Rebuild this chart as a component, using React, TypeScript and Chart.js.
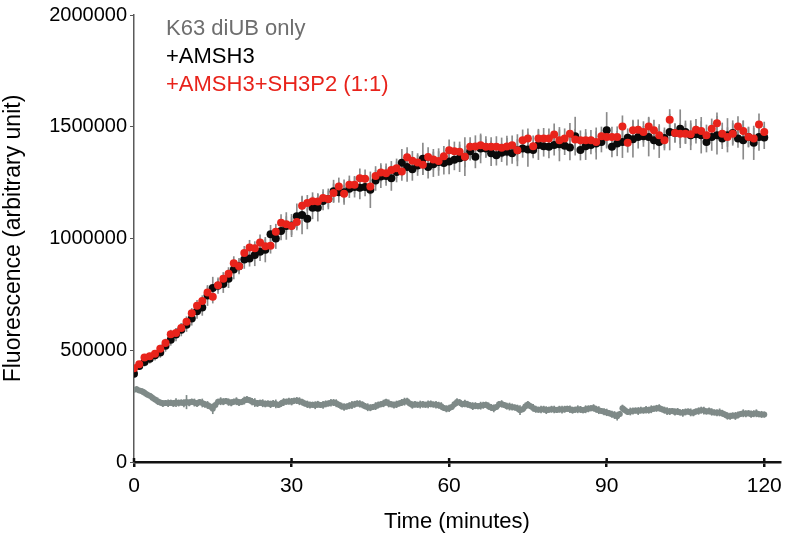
import React, { useEffect, useRef } from "react";
import { Chart, registerables } from "chart.js";

Chart.register(...registerables);

// ---- data (fluorescence values in thousands of arbitrary units) ----
const xTicks = [0, 30, 60, 90, 120];
const yTicks = [0, 500000, 1000000, 1500000, 2000000];
const legendLabels = ["K63 diUB only", "+AMSH3", "+AMSH3+SH3P2 (1:1)"];
const legendColors = ["#6e6e6e", "#000000", "#e8231b"];

// minutes, sampled every 1 min (AMSH3 series) and every 0.5 min (diUB only)
const minutesFull = Array.from({ length: 121 }, (_, i) => i);
const minutesHalf = Array.from({ length: 241 }, (_, i) => i / 2);

const amsh3 = [
  395, 430, 447, 462, 478, 490, 520, 547, 570, 592,
  614, 642, 674, 691, 745, 779, 789, 796, 820, 861,
  876, 906, 911, 926, 941, 950, 1019, 1000, 1034, 1056,
  1058, 1100, 1105, 1088, 1138, 1138, 1168, 1177, 1211, 1207,
  1207, 1223, 1230, 1227, 1230, 1218, 1260, 1277, 1280, 1270,
  1298, 1339, 1320, 1310, 1327, 1357, 1320, 1332, 1342, 1338,
  1344, 1352, 1359, 1366, 1390, 1366, 1403, 1403, 1381, 1373,
  1384, 1388, 1381, 1395, 1403, 1398, 1396, 1418, 1413, 1410,
  1418, 1422, 1415, 1407, 1458, 1396, 1413, 1418, 1425, 1432,
  1484, 1410, 1425, 1432, 1451, 1444, 1454, 1457, 1454, 1440,
  1432, 1450, 1476, 1472, 1491, 1476, 1462, 1466, 1462, 1432,
  1454, 1462, 1447, 1462, 1472, 1447, 1440, 1454, 1428, 1454,
  1452,
];

const amsh3Err = [
  12, 15, 18, 20, 22, 22, 25, 25, 28, 28,
  30, 30, 32, 35, 45, 48, 35, 38, 40, 42,
  35, 40, 35, 48, 40, 55, 40, 45, 40, 60,
  50, 55, 85, 45, 50, 60, 40, 45, 50, 45,
  55, 40, 45, 50, 40, 80, 45, 50, 42, 55,
  45, 60, 65, 50, 45, 70, 50, 55, 60, 50,
  55, 45, 60, 85, 40, 50, 65, 40, 55, 45,
  40, 60, 45, 70, 40, 75, 35, 65, 45, 50,
  45, 75, 40, 55, 85, 45, 60, 40, 70, 45,
  80, 45, 55, 70, 40, 80, 50, 45, 85, 40,
  70, 45, 80, 40, 85, 50, 65, 40, 80, 45,
  60, 85, 45, 75, 55, 40, 85, 45, 75, 60,
  50,
];

const amsh3Sh3p2 = [
  419, 437, 468, 473, 484, 507, 532, 572, 577, 599,
  628, 665, 699, 720, 758, 739, 791, 820, 842, 889,
  876, 935, 960, 956, 982, 965, 968, 1030, 1071, 1064,
  1056, 1074, 1147, 1159, 1167, 1165, 1181, 1177, 1204, 1233,
  1200, 1240, 1240, 1270, 1267, 1233, 1280, 1295, 1292, 1307,
  1314, 1300, 1363, 1348, 1340, 1330, 1365, 1353, 1347, 1368,
  1395, 1390, 1388, 1366, 1410, 1412, 1417, 1410, 1410, 1410,
  1406, 1412, 1417, 1395, 1440, 1447, 1413, 1447, 1447, 1447,
  1465, 1440, 1447, 1469, 1443, 1440, 1440, 1440, 1432, 1457,
  1454, 1454, 1454, 1501, 1428, 1484, 1487, 1477, 1501, 1484,
  1462, 1440, 1531, 1472, 1469, 1469, 1466, 1487, 1481, 1462,
  1491, 1516, 1469, 1454, 1469, 1501, 1481, 1454, 1447, 1510,
  1477,
];

const amsh3Sh3p2Err = [
  10, 12, 14, 14, 16, 16, 18, 18, 20, 20,
  22, 22, 24, 24, 26, 28, 26, 28, 28, 30,
  30, 30, 32, 30, 34, 32, 34, 34, 36, 34,
  38, 36, 38, 34, 38, 36, 38, 36, 40, 38,
  38, 40, 38, 42, 40, 38, 42, 40, 42, 38,
  42, 40, 44, 42, 40, 44, 42, 46, 42, 44,
  46, 42, 44, 46, 42, 48, 44, 46, 42, 46,
  44, 46, 42, 48, 46, 44, 46, 42, 46, 44,
  48, 46, 44, 46, 46, 42, 48, 44, 46, 42,
  46, 44, 46, 48, 42, 46, 44, 46, 42, 46,
  48, 44, 46, 42, 46, 44, 48, 46, 42, 46,
  44, 46, 48, 42, 46, 44, 46, 42, 46, 48,
  44,
];

const diubOnly = [
  323, 326, 320, 316, 310, 302, 296, 288, 280, 272,
  266, 262, 264, 263, 265, 262, 266, 264, 266, 263,
  268, 265, 270, 266, 262, 268, 264, 258, 255, 248,
  238, 255, 270, 272, 270, 273, 268, 265, 270, 272,
  266, 268, 275, 280, 276, 270, 266, 262, 265, 263,
  260, 262, 258, 262, 260, 255, 262, 268, 270, 272,
  270, 274, 275, 272, 268, 262, 258, 255, 256, 254,
  258, 255, 256, 260, 262, 265, 266, 263, 256, 250,
  246, 248, 252, 255, 258, 262, 260, 256, 250, 245,
  243, 246, 250, 255, 258, 262, 268, 262, 258, 255,
  258, 262, 266, 270, 272, 262, 255, 258, 256, 257,
  258, 256, 258, 260, 257, 256, 254, 250, 242, 238,
  240, 246, 258, 268, 266, 258, 262, 258, 254, 250,
  252, 250, 252, 254, 256, 250, 244, 240, 246, 258,
  260, 255, 250, 248, 246, 244, 240, 232, 236, 248,
  257, 250, 242, 236, 234, 235, 236, 232, 234, 236,
  235, 233, 236, 234, 236, 238, 236, 232, 234, 236,
  235, 232, 236, 238, 240, 242, 236, 232, 228, 225,
  222, 218, 214, 210, 205, 215, 240, 232, 224, 226,
  228, 230, 228, 232, 230, 234, 232, 236, 238, 240,
  242, 236, 232, 228, 226, 228, 224, 226, 222, 220,
  224, 226, 222, 220, 226, 228, 232, 230, 226, 228,
  224, 222, 220, 222, 218, 212, 206, 205, 208, 206,
  210, 215, 218, 216, 218, 214, 216, 218, 214, 213,
  212,
];

const diubOnlyErr = [
  10, 12, 10, 12, 14, 12, 10, 14, 12, 15,
  12, 14, 12, 15, 12, 14, 18, 14, 12, 16,
  30, 14, 12, 16, 14, 12, 18, 14, 16, 12,
  22, 14, 12, 16, 14, 12, 15, 14, 12, 16,
  14, 12, 16, 14, 12, 15, 18, 14, 12, 16,
  14, 12, 15, 14, 18, 12, 14, 16, 12, 14,
  15, 12, 14, 16, 14, 12, 15, 14, 12, 16,
  14, 12, 16, 14, 12, 15, 14, 16, 12, 14,
  15, 12, 14, 16, 14, 12, 15, 14, 12, 16,
  14, 12, 16, 14, 12, 15, 14, 16, 12, 14,
  15, 12, 14, 16, 14, 12, 15, 14, 12, 16,
  14, 12, 16, 14, 12, 15, 14, 16, 12, 14,
  15, 12, 14, 16, 14, 12, 15, 14, 12, 16,
  14, 12, 16, 14, 12, 15, 14, 16, 12, 14,
  15, 12, 14, 16, 14, 12, 15, 20, 12, 16,
  14, 12, 16, 14, 12, 15, 14, 16, 12, 14,
  15, 12, 14, 16, 14, 12, 15, 14, 12, 16,
  14, 12, 16, 14, 12, 15, 14, 16, 12, 14,
  15, 12, 14, 16, 18, 12, 15, 14, 12, 16,
  14, 12, 16, 14, 12, 15, 14, 16, 12, 14,
  15, 12, 14, 16, 14, 12, 15, 14, 12, 16,
  14, 12, 16, 14, 12, 15, 14, 16, 12, 14,
  15, 12, 14, 16, 14, 12, 15, 14, 12, 16,
  14, 12, 16, 14, 12, 15, 14, 16, 12, 14,
  12,
];

const FONT = '"Liberation Sans", Arial, Helvetica, sans-serif';

const toPoints = (t: number[], v: number[]) =>
  t.map((x, i) => ({ x, y: v[i] * 1000 }));
const toBars = (t: number[], v: number[], e: number[]) =>
  t.map((x, i) => ({ x, y: [(v[i] - e[i]) * 1000, (v[i] + e[i]) * 1000] }));

const legendPlugin = {
  id: "legendText",
  afterDraw(chart: any) {
    const ctx = chart.ctx;
    ctx.save();
    ctx.font = `22px ${FONT}`;
    ctx.textAlign = "left";
    ctx.textBaseline = "alphabetic";
    legendLabels.forEach((label, i) => {
      ctx.fillStyle = legendColors[i];
      ctx.fillText(label, 166, 35 + i * 28);
    });
    ctx.restore();
  },
};

const xTickUpPlugin = {
  id: "xTickUp",
  afterDraw(chart: any) {
    const ctx = chart.ctx;
    const xs = chart.scales.x;
    const bottom = chart.chartArea.bottom;
    ctx.save();
    ctx.strokeStyle = "#111";
    ctx.lineWidth = 2.5;
    xTicks.forEach((t) => {
      const px = xs.getPixelForValue(t);
      ctx.beginPath();
      ctx.moveTo(px, bottom - 4);
      ctx.lineTo(px, bottom);
      ctx.stroke();
    });
    ctx.restore();
  },
};

export default function App() {
  const ref = useRef<HTMLCanvasElement | null>(null);

  useEffect(() => {
    document.body.style.margin = "0";
    if (!ref.current) return;
    const barCommon = {
      type: "bar" as const,
      barThickness: 1,
      grouped: false,
      borderWidth: 0,
      backgroundColor: "#8a8a8a",
    };
    const chart = new Chart(ref.current, {
      type: "scatter",
      data: {
        datasets: [
          { ...barCommon, data: toBars(minutesHalf, diubOnly, diubOnlyErr), order: 6, backgroundColor: "#7f8a88" } as any,
          { ...barCommon, data: toBars(minutesFull, amsh3, amsh3Err), order: 5 } as any,
          { ...barCommon, data: toBars(minutesFull, amsh3Sh3p2, amsh3Sh3p2Err), order: 4 } as any,
          {
            type: "scatter",
            label: legendLabels[0],
            data: toPoints(minutesHalf, diubOnly),
            pointRadius: 3,
            pointBorderWidth: 0,
            pointBackgroundColor: "#7f8a88",
            order: 3,
          },
          {
            type: "scatter",
            label: legendLabels[1],
            data: toPoints(minutesFull, amsh3),
            pointRadius: 4,
            pointBorderWidth: 0,
            pointBackgroundColor: "#0a0a0a",
            order: 2,
          },
          {
            type: "scatter",
            label: legendLabels[2],
            data: toPoints(minutesFull, amsh3Sh3p2),
            pointRadius: 4,
            pointBorderWidth: 0,
            pointBackgroundColor: "#e8231b",
            order: 1,
          },
        ] as any,
      },
      options: {
        animation: false,
        responsive: false,
        devicePixelRatio: 1,
        layout: { padding: { top: 9, right: 16, left: 0, bottom: 0 } },
        plugins: {
          legend: { display: false },
          tooltip: { enabled: false },
        },
        scales: {
          x: {
            type: "linear",
            min: 0,
            max: 123,
            offset: false,
            afterBuildTicks: (s: any) => {
              s.ticks = xTicks.map((value) => ({ value }));
            },
            afterFit: (s: any) => {
              s.height = 77;
            },
            grid: {
              offset: false,
              drawOnChartArea: false,
              drawTicks: true,
              tickLength: 5,
              color: "#111",
              lineWidth: 2.5,
            },
            border: { display: true, color: "#111", width: 2.5 },
            ticks: {
              color: "#000",
              font: { family: FONT, size: 21 },
              padding: 7,
              maxRotation: 0,
              callback: (v: any) => String(v),
            },
            title: {
              display: true,
              text: "Time (minutes)",
              color: "#000",
              font: { family: FONT, size: 22 },
              padding: { top: 0, bottom: 4 },
            },
          },
          y: {
            type: "linear",
            min: 0,
            max: 2000000,
            afterBuildTicks: (s: any) => {
              s.ticks = yTicks.map((value) => ({ value }));
            },
            afterFit: (s: any) => {
              s.width = 134;
            },
            grid: {
              drawOnChartArea: false,
              drawTicks: true,
              tickLength: 4,
              color: "#555",
              lineWidth: 1,
            },
            border: { display: true, color: "#5a5a5a", width: 1.5 },
            ticks: {
              color: "#000",
              font: { family: FONT, size: 20 },
              padding: 3,
              callback: (v: any) => String(v),
            },
            title: {
              display: true,
              text: "Fluorescence (arbitrary unit)",
              color: "#000",
              font: { family: FONT, size: 23 },
              padding: { top: 0, bottom: 0 },
            },
          },
        },
      } as any,
      plugins: [legendPlugin, xTickUpPlugin],
    });
    return () => chart.destroy();
  }, []);

  return (
    <div style={{ width: 796, height: 539 }}>
      <canvas ref={ref} width={796} height={539} />
    </div>
  );
}
